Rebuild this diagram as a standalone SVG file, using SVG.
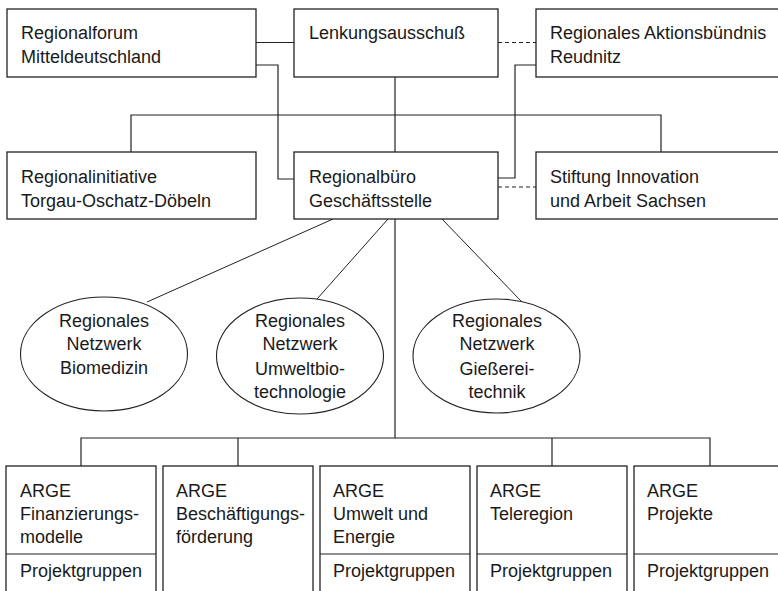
<svg xmlns="http://www.w3.org/2000/svg" width="778" height="591" viewBox="0 0 778 591">
<style>
.box{fill:#fff;stroke:#222;stroke-width:1.3}
.ell{fill:#fff;stroke:#222;stroke-width:1.1}
.ln{fill:none;stroke:#222;stroke-width:1.2}
.dash{fill:none;stroke:#222;stroke-width:1.2;stroke-dasharray:4 3}
.thin{fill:none;stroke:#222;stroke-width:1}
text{font-family:"Liberation Sans",Arial,sans-serif;font-size:18px;fill:#1a1a1a}
.c{text-anchor:middle}
</style>
<rect width="778" height="591" fill="#fff"/>
<g id="connectors">
<line class="ln" x1="256" y1="42.5" x2="294" y2="42.5"/>
<polyline class="ln" points="256,65 278,65 278,179 294,179"/>
<line class="dash" x1="498" y1="42.5" x2="536" y2="42.5"/>
<polyline class="ln" points="536,65 515,65 515,178 498,178"/>
<line class="ln" x1="395" y1="77" x2="395" y2="152"/>
<polyline class="ln" points="131,152 131,115 661,115 661,152"/>
<line class="dash" x1="498" y1="187" x2="536" y2="187"/>
<line class="thin" x1="333" y1="219" x2="147" y2="302"/>
<line class="thin" x1="388" y1="219" x2="317" y2="299"/>
<line class="thin" x1="442" y1="219" x2="521" y2="301"/>
<line class="ln" x1="395" y1="219" x2="395" y2="438"/>
<polyline class="ln" points="81,466 81,438 710,438 710,466"/>
<line class="ln" x1="238" y1="438" x2="238" y2="466"/>
<line class="ln" x1="552" y1="438" x2="552" y2="466"/>
</g>
<g id="regionalforum">
<rect class="box" x="7" y="9" width="249" height="68"/>
<text x="21" y="39">Regionalforum</text>
<text x="21" y="63">Mitteldeutschland</text>
</g>
<g id="lenkungsausschuss">
<rect class="box" x="294" y="9" width="204" height="68"/>
<text x="309" y="39">Lenkungsausschuß</text>
</g>
<g id="aktionsbuendnis">
<rect class="box" x="536" y="9" width="249" height="68"/>
<text x="550" y="39">Regionales Aktionsbündnis</text>
<text x="550" y="63">Reudnitz</text>
</g>
<g id="regionalinitiative">
<rect class="box" x="7" y="152" width="249" height="67"/>
<text x="21" y="183">Regionalinitiative</text>
<text x="21" y="207">Torgau-Oschatz-Döbeln</text>
</g>
<g id="regionalbuero">
<rect class="box" x="294" y="152" width="204" height="67"/>
<text x="309" y="183">Regionalbüro</text>
<text x="309" y="207">Geschäftsstelle</text>
</g>
<g id="stiftung">
<rect class="box" x="536" y="152" width="249" height="67"/>
<text x="550" y="183">Stiftung Innovation</text>
<text x="550" y="207">und Arbeit Sachsen</text>
</g>
<g id="netzwerk-biomedizin">
<ellipse class="ell" cx="104" cy="354" rx="83.5" ry="57"/>
<text class="c" x="104" y="327">Regionales</text>
<text class="c" x="104" y="350">Netzwerk</text>
<text class="c" x="104" y="374">Biomedizin</text>
</g>
<g id="netzwerk-umweltbiotechnologie">
<ellipse class="ell" cx="300" cy="356" rx="83.5" ry="58"/>
<text class="c" x="300" y="327">Regionales</text>
<text class="c" x="300" y="350">Netzwerk</text>
<text class="c" x="300" y="375">Umweltbio-</text>
<text class="c" x="300" y="398">technologie</text>
</g>
<g id="netzwerk-giessereitechnik">
<ellipse class="ell" cx="496.5" cy="356" rx="83.5" ry="57"/>
<text class="c" x="497" y="327">Regionales</text>
<text class="c" x="497" y="350">Netzwerk</text>
<text class="c" x="497" y="375">Gießerei-</text>
<text class="c" x="497" y="398">technik</text>
</g>
<g id="arge-finanzierung">
<rect class="box" x="6" y="466" width="150" height="140"/>
<line class="ln" x1="6" y1="554" x2="156" y2="554"/>
<text x="20" y="497">ARGE</text>
<text x="20" y="520">Finanzierungs-</text>
<text x="20" y="543">modelle</text>
<text x="20" y="577">Projektgruppen</text>
</g>
<g id="arge-beschaeftigung">
<rect class="box" x="163" y="466" width="150" height="140"/>
<text x="176" y="497">ARGE</text>
<text x="176" y="520">Beschäftigungs-</text>
<text x="176" y="543">förderung</text>
</g>
<g id="arge-umwelt">
<rect class="box" x="320" y="466" width="150" height="140"/>
<line class="ln" x1="320" y1="554" x2="470" y2="554"/>
<text x="333" y="497">ARGE</text>
<text x="333" y="520">Umwelt und</text>
<text x="333" y="543">Energie</text>
<text x="333" y="577">Projektgruppen</text>
</g>
<g id="arge-teleregion">
<rect class="box" x="477" y="466" width="150" height="140"/>
<line class="ln" x1="477" y1="554" x2="627" y2="554"/>
<text x="490" y="497">ARGE</text>
<text x="490" y="520">Teleregion</text>
<text x="490" y="577">Projektgruppen</text>
</g>
<g id="arge-projekte">
<rect class="box" x="634" y="466" width="150" height="140"/>
<line class="ln" x1="634" y1="554" x2="784" y2="554"/>
<text x="647" y="497">ARGE</text>
<text x="647" y="520">Projekte</text>
<text x="647" y="577">Projektgruppen</text>
</g>
</svg>
